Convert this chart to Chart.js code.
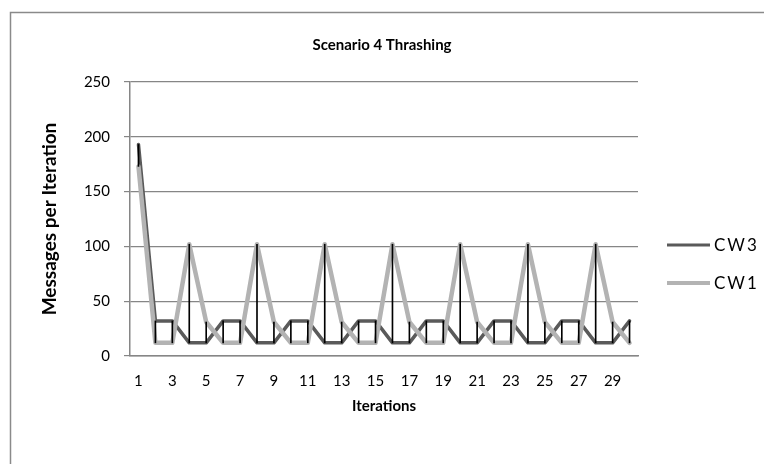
<!DOCTYPE html>
<html><head><meta charset="utf-8">
<script src="https://cdn.jsdelivr.net/npm/chart.js@4/dist/chart.umd.min.js"></script>
<style>html,body{margin:0;padding:0;background:#fff}#wrap{width:764px;height:464px;position:relative}</style>
</head><body><div id="wrap"><canvas id="c" width="764" height="464"></canvas></div>
<script>
const iterations = ['1','2','3','4','5','6','7','8','9','10','11','12','13','14','15','16','17','18','19','20','21','22','23','24','25','26','27','28','29','30'];
const cw3 = [193,32,32,12,12,32,32,12,12,32,32,12,12,32,32,12,12,32,32,12,12,32,32,12,12,32,32,12,12,32];
const cw1 = [173,12,12,102,31,12,12,102,31,12,12,102,31,12,12,102,31,12,12,102,31,12,12,102,31,12,12,102,31,12];
const yTicks = [0,50,100,150,200,250];
const seriesNames = ['CW3','CW1'];
const chartTitle = 'Scenario 4 Thrashing';
const xTitle = 'Iterations';
const yTitle = 'Messages per Iteration';

const FONT = "Lato, sans-serif";
const GRID = '#868686';
const hiLo = iterations.map((_, i) => [Math.min(cw3[i], cw1[i]), Math.max(cw3[i], cw1[i])]);

const framePlugin = {
  id: 'frame',
  beforeDraw(chart) {
    const ctx = chart.ctx;
    ctx.save();
    ctx.strokeStyle = '#8a8a8a';
    ctx.lineWidth = 1.5;
    ctx.beginPath();
    ctx.moveTo(10.5, 464);
    ctx.lineTo(10.5, 12.5);
    ctx.lineTo(764, 12.5);
    ctx.stroke();
    ctx.restore();
  }
};

const legendPlugin = {
  id: 'sideLegend',
  afterDraw(chart) {
    const ctx = chart.ctx;
    const rows = [245, 283];
    ctx.save();
    [0, 1].forEach((di, k) => {
      const ds = chart.data.datasets[di];
      const y = rows[k];
      ctx.strokeStyle = ds.borderColor;
      ctx.lineWidth = ds.borderWidth - 0.5;
      ctx.beginPath();
      ctx.moveTo(667, y);
      ctx.lineTo(710, y);
      ctx.stroke();
      ctx.fillStyle = '#000';
      ctx.font = '17px ' + FONT;
      try { ctx.letterSpacing = '2px'; } catch (e) {}
      ctx.textBaseline = 'middle';
      ctx.textAlign = 'left';
      ctx.fillText(ds.label, 714, y + 1);
    });
    ctx.restore();
  }
};

new Chart(document.getElementById('c'), {
  type: 'line',
  data: {
    labels: iterations,
    datasets: [
      { type: 'line', label: seriesNames[0], data: cw3, borderColor: '#5a5a5a', backgroundColor: '#5a5a5a',
        borderWidth: 3.5, pointRadius: 0, tension: 0, borderJoinStyle: 'round', borderCapStyle: 'round', order: 2 },
      { type: 'line', label: seriesNames[1], data: cw1, borderColor: '#b3b3b3', backgroundColor: '#b3b3b3',
        borderWidth: 4.5, pointRadius: 0, tension: 0, borderJoinStyle: 'round', borderCapStyle: 'round', order: 1 },
      { type: 'bar', label: 'hilo', data: hiLo, backgroundColor: '#000', borderWidth: 0,
        barThickness: 1, grouped: false, order: 0 }
    ]
  },
  options: {
    responsive: false,
    animation: false,
    devicePixelRatio: 1,
    layout: { padding: { left: 0, right: 0, top: 0, bottom: 0 } },
    plugins: {
      legend: { display: false },
      tooltip: { enabled: false },
      title: {
        display: true, text: chartTitle, color: '#000',
        font: { family: FONT, size: 15, weight: 'bold', lineHeight: 1.2 },
        padding: { top: 36, bottom: 28 }
      }
    },
    scales: {
      x: {
        type: 'category', offset: true,
        grid: { display: false, drawTicks: false },
        border: { display: true, color: GRID, width: 1.5 },
        ticks: {
          autoSkip: false, maxRotation: 0, minRotation: 0, padding: 16, color: '#000',
          font: { family: FONT, size: 15, lineHeight: 1.2 },
          callback: (v, i) => (i % 2 === 0 ? iterations[i] : '')
        },
        title: { display: true, text: xTitle, color: '#000',
          font: { family: FONT, size: 15, weight: 'bold', lineHeight: 1.2 },
          padding: { top: 0, bottom: 49 } },
        afterFit(s) { s.height = 108; }
      },
      y: {
        min: 0, max: 250,
        afterBuildTicks(s) { s.ticks = yTicks.map(v => ({ value: v })); },
        grid: { color: GRID, lineWidth: 1.2, tickLength: 6, drawTicks: true, tickColor: GRID },
        border: { display: true, color: GRID, width: 1.5 },
        ticks: { padding: 14, color: '#000', font: { family: FONT, size: 15, lineHeight: 1.2 } },
        title: { display: true, text: yTitle, color: '#000',
          font: { family: FONT, size: 19, weight: 'bold', lineHeight: 1.2 },
          padding: { top: 38.6, bottom: 0 } },
        afterFit(s) { s.width = 130; }
      },
      yR: {
        position: 'right', display: true,
        grid: { display: false, drawTicks: false }, border: { display: false },
        ticks: { display: false },
        afterFit(s) { s.width = 126; }
      }
    }
  },
  plugins: [framePlugin, legendPlugin]
});
</script></body></html>
